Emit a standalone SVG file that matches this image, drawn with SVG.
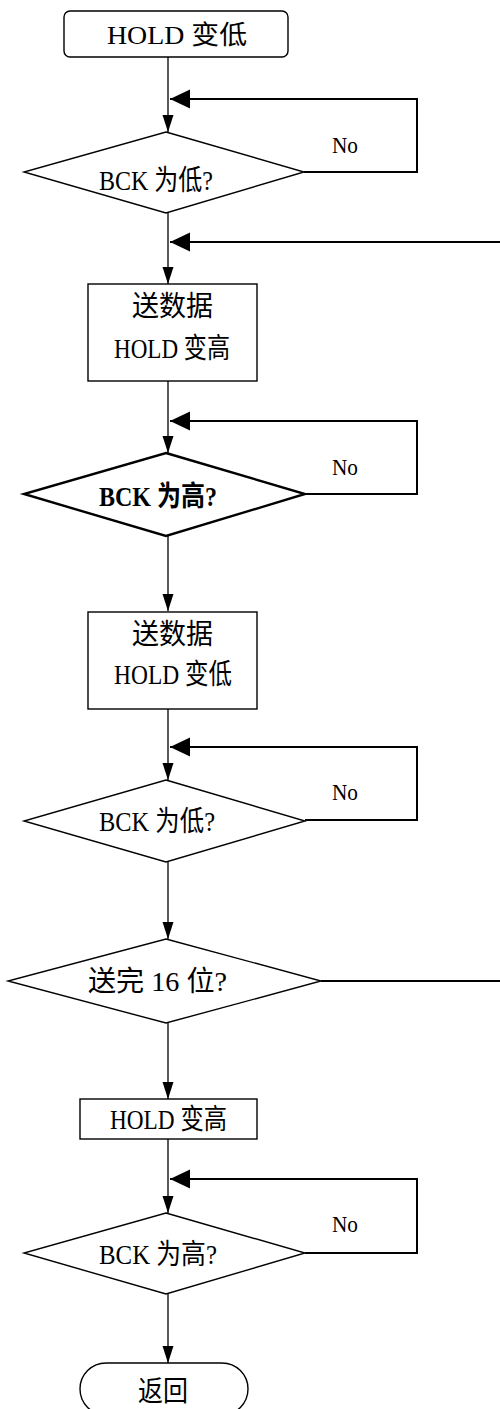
<svg xmlns="http://www.w3.org/2000/svg" width="500" height="1409" viewBox="0 0 500 1409">
<style>
.shape{fill:#fff;stroke:#000;stroke-width:1.4}
.bold{stroke-width:2.4}
.t{font-family:"Liberation Serif","Noto Sans CJK SC",serif;font-size:28px;fill:#000}
.ts{font-size:26px}
.tb{font-weight:bold}
.no{font-family:"Liberation Serif",serif;font-size:24px;fill:#000}
.flow{fill:none;stroke:#000;stroke-width:1.3}
.loop{fill:none;stroke:#000;stroke-width:2}
</style>
<defs>
<marker id="ad" markerUnits="userSpaceOnUse" markerWidth="18" markerHeight="12" refX="17" refY="5.5" orient="auto"><path d="M0,0 L17,5.5 L0,11 z" fill="#000"/></marker>
<marker id="al" markerUnits="userSpaceOnUse" markerWidth="21" markerHeight="20" refX="20" refY="9.5" orient="auto"><path d="M0,0 L20,9.5 L0,19 z" fill="#000"/></marker>
</defs>
<rect width="500" height="1409" fill="#fff"/>
<g id="connectors">
<path class="flow" d="M168,57 V132" marker-end="url(#ad)"/>
<path class="loop" d="M304,172 H417 V99 H170" marker-end="url(#al)"/>
<path class="flow" d="M168,213 V284" marker-end="url(#ad)"/>
<path class="loop" d="M500,242 H170" marker-end="url(#al)"/>
<path class="flow" d="M168,381 V453" marker-end="url(#ad)"/>
<path class="loop" d="M305,494 H417 V421 H170" marker-end="url(#al)"/>
<path class="flow" d="M168,536 V611" marker-end="url(#ad)"/>
<path class="flow" d="M168,709 V780" marker-end="url(#ad)"/>
<path class="loop" d="M305,820 H417 V747 H170" marker-end="url(#al)"/>
<path class="flow" d="M168,862 V939" marker-end="url(#ad)"/>
<path class="loop" d="M321,981 H500"/>
<path class="flow" d="M168,1023 V1099" marker-end="url(#ad)"/>
<path class="flow" d="M168,1139 V1213" marker-end="url(#ad)"/>
<path class="loop" d="M305,1253 H417 V1179 H170" marker-end="url(#al)"/>
<path class="flow" d="M168,1294 V1363" marker-end="url(#ad)"/>
<text class="no" x="332" y="153" textLength="26" lengthAdjust="spacingAndGlyphs">No</text>
<text class="no" x="332" y="475" textLength="26" lengthAdjust="spacingAndGlyphs">No</text>
<text class="no" x="332" y="800" textLength="26" lengthAdjust="spacingAndGlyphs">No</text>
<text class="no" x="332" y="1232" textLength="26" lengthAdjust="spacingAndGlyphs">No</text>
</g>
<g id="start">
<rect class="shape" x="64" y="11" width="224" height="46" rx="6"/>
<text class="t ts" x="107" y="44" textLength="140" lengthAdjust="spacingAndGlyphs">HOLD 变低</text>
</g>
<g id="d1">
<polygon class="shape" points="166,132 304,172 166,213 24,172"/>
<text class="t" x="99" y="190" textLength="114" lengthAdjust="spacingAndGlyphs">BCK 为低?</text>
</g>
<g id="b1">
<rect class="shape" x="88" y="284" width="169" height="97"/>
<text class="t" x="132" y="316" textLength="81" lengthAdjust="spacingAndGlyphs">送数据</text>
<text class="t" x="114" y="358" textLength="116" lengthAdjust="spacingAndGlyphs">HOLD 变高</text>
</g>
<g id="d2">
<polygon class="shape bold" points="166,453 305,494 166,536 24,494"/>
<text class="t tb" x="99" y="506" textLength="118" lengthAdjust="spacingAndGlyphs">BCK 为高?</text>
</g>
<g id="b2">
<rect class="shape" x="88" y="612" width="169" height="97"/>
<text class="t" x="132" y="644" textLength="81" lengthAdjust="spacingAndGlyphs">送数据</text>
<text class="t" x="114" y="684" textLength="118" lengthAdjust="spacingAndGlyphs">HOLD 变低</text>
</g>
<g id="d3">
<polygon class="shape" points="166,780 305,821 166,862 24,821"/>
<text class="t" x="99" y="831" textLength="116" lengthAdjust="spacingAndGlyphs">BCK 为低?</text>
</g>
<g id="d4">
<polygon class="shape" points="166,939 321,981 166,1023 8,981"/>
<text class="t" x="88" y="991" textLength="139" lengthAdjust="spacingAndGlyphs">送完 16 位?</text>
</g>
<g id="b3">
<rect class="shape" x="80" y="1099" width="177" height="40"/>
<text class="t" x="110" y="1129" textLength="117" lengthAdjust="spacingAndGlyphs">HOLD 变高</text>
</g>
<g id="d5">
<polygon class="shape" points="166,1213 305,1253 166,1294 24,1253"/>
<text class="t" x="99" y="1264" textLength="118" lengthAdjust="spacingAndGlyphs">BCK 为高?</text>
</g>
<g id="end">
<rect class="shape" x="80" y="1363" width="168" height="52" rx="26"/>
<text class="t" x="138" y="1401" textLength="50" lengthAdjust="spacingAndGlyphs">返回</text>
</g>
</svg>
